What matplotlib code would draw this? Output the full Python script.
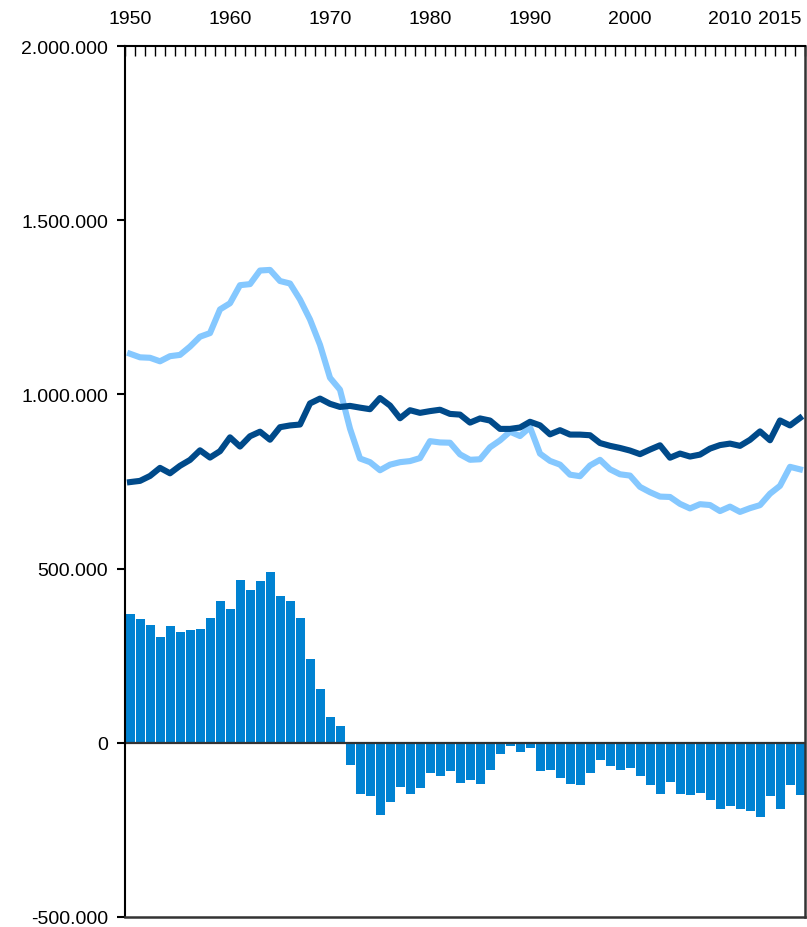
import matplotlib
matplotlib.use("Agg")
import matplotlib.pyplot as plt
from matplotlib.ticker import FuncFormatter, FixedLocator

plt.rcParams['font.family'] = ['Liberation Sans', 'DejaVu Sans']
plt.rcParams['font.size'] = 14

years = list(range(1950, 2018))

# live births, thousands
births = [1116.7, 1106.4, 1105.1, 1095.0, 1109.7, 1113.4, 1137.2, 1165.6, 1175.9, 1243.9,
          1261.6, 1313.5, 1316.5, 1355.6, 1357.3, 1325.4, 1318.3, 1272.3, 1215.0, 1142.4,
          1047.7, 1013.4, 901.7, 816.0, 805.5, 782.3, 798.3, 805.5, 808.6, 817.2,
          865.8, 862.1, 861.3, 827.9, 812.3, 813.8, 848.2, 868.0, 893.0, 880.5,
          905.7, 830.0, 809.1, 798.4, 769.6, 765.2, 796.0, 812.2, 785.0, 770.7,
          767.0, 734.5, 719.3, 706.7, 705.6, 685.8, 672.7, 684.9, 682.5, 665.1,
          677.9, 662.7, 673.5, 682.1, 714.9, 737.6, 792.1, 784.9]

# deaths, thousands
deaths = [748.3, 751.8, 765.9, 789.1, 773.6, 795.1, 811.9, 839.5, 818.7, 837.0,
          876.7, 850.3, 879.9, 893.0, 869.9, 905.9, 910.9, 913.5, 974.1, 988.0,
          973.0, 964.0, 967.0, 962.0, 957.5, 989.6, 968.0, 931.5, 954.6, 947.0,
          952.0, 956.0, 944.0, 942.0, 919.0, 931.0, 925.0, 901.0, 901.0, 905.0,
          921.4, 911.2, 885.4, 897.3, 884.7, 884.6, 882.8, 860.4, 852.4, 846.3,
          838.8, 828.5, 841.7, 853.9, 818.3, 830.2, 821.6, 827.2, 844.4, 854.5,
          858.8, 852.3, 869.6, 893.8, 868.4, 925.2, 910.9, 932.3]

# births minus deaths, thousands
balance = [370.7, 356, 339, 305, 336, 319, 325, 328, 359, 408,
           385, 466, 440, 463, 489, 420, 408, 359, 241, 155,
           75, 49, -65, -146, -152, -207, -170, -126, -146, -130,
           -86, -94, -82, -114, -107, -117, -77, -33, -8, -25,
           -16, -82, -77, -100, -117, -120, -88, -48, -68, -77,
           -71, -94, -122, -146, -113, -146, -149, -143, -163, -189,
           -180, -189, -197, -212, -154, -189, -120, -149]

label_years = [1950, 1960, 1970, 1980, 1990, 2000, 2010, 2015]

fig = plt.figure(figsize=(8.07, 9.28), dpi=100)
ax = fig.add_axes([125 / 807, 10 / 928, 680 / 807, 871 / 928])

ax.bar(years, [v * 1000 for v in balance], width=0.9, color="#0082D2", zorder=2)
ax.plot(years, [v * 1000 for v in births], color="#85C8FF", lw=4.4,
        solid_joinstyle="round", zorder=3)
ax.plot(years, [v * 1000 for v in deaths], color="#004A8A", lw=4.4,
        solid_joinstyle="round", zorder=4)
ax.axhline(0, color="#333333", lw=1.6, zorder=2.5)

ax.set_xlim(1949.5, 2017.5)
ax.set_ylim(-500000, 2000000)
ax.set_yticks([-500000, 0, 500000, 1000000, 1500000, 2000000])
ax.yaxis.set_major_formatter(FuncFormatter(lambda v, p: f"{int(v):,}".replace(",", ".")))
ax.tick_params(axis="y", direction="out", length=6, width=1.5, pad=6, color="black")

ax.xaxis.tick_top()
ax.xaxis.set_major_locator(FixedLocator(label_years))
ax.xaxis.set_minor_locator(FixedLocator([y - 0.5 for y in years] + [2017.5]))
ax.tick_params(axis="x", which="major", length=0, pad=14)
ax.tick_params(axis="x", which="minor", direction="in", length=7, width=1, color="black")

for side in ["left", "top"]:
    ax.spines[side].set_color("black")
    ax.spines[side].set_linewidth(1.5)
for side in ["right", "bottom"]:
    ax.spines[side].set_color("#333333")
    ax.spines[side].set_linewidth(1.8)

fig.savefig("out.png", dpi=100)
